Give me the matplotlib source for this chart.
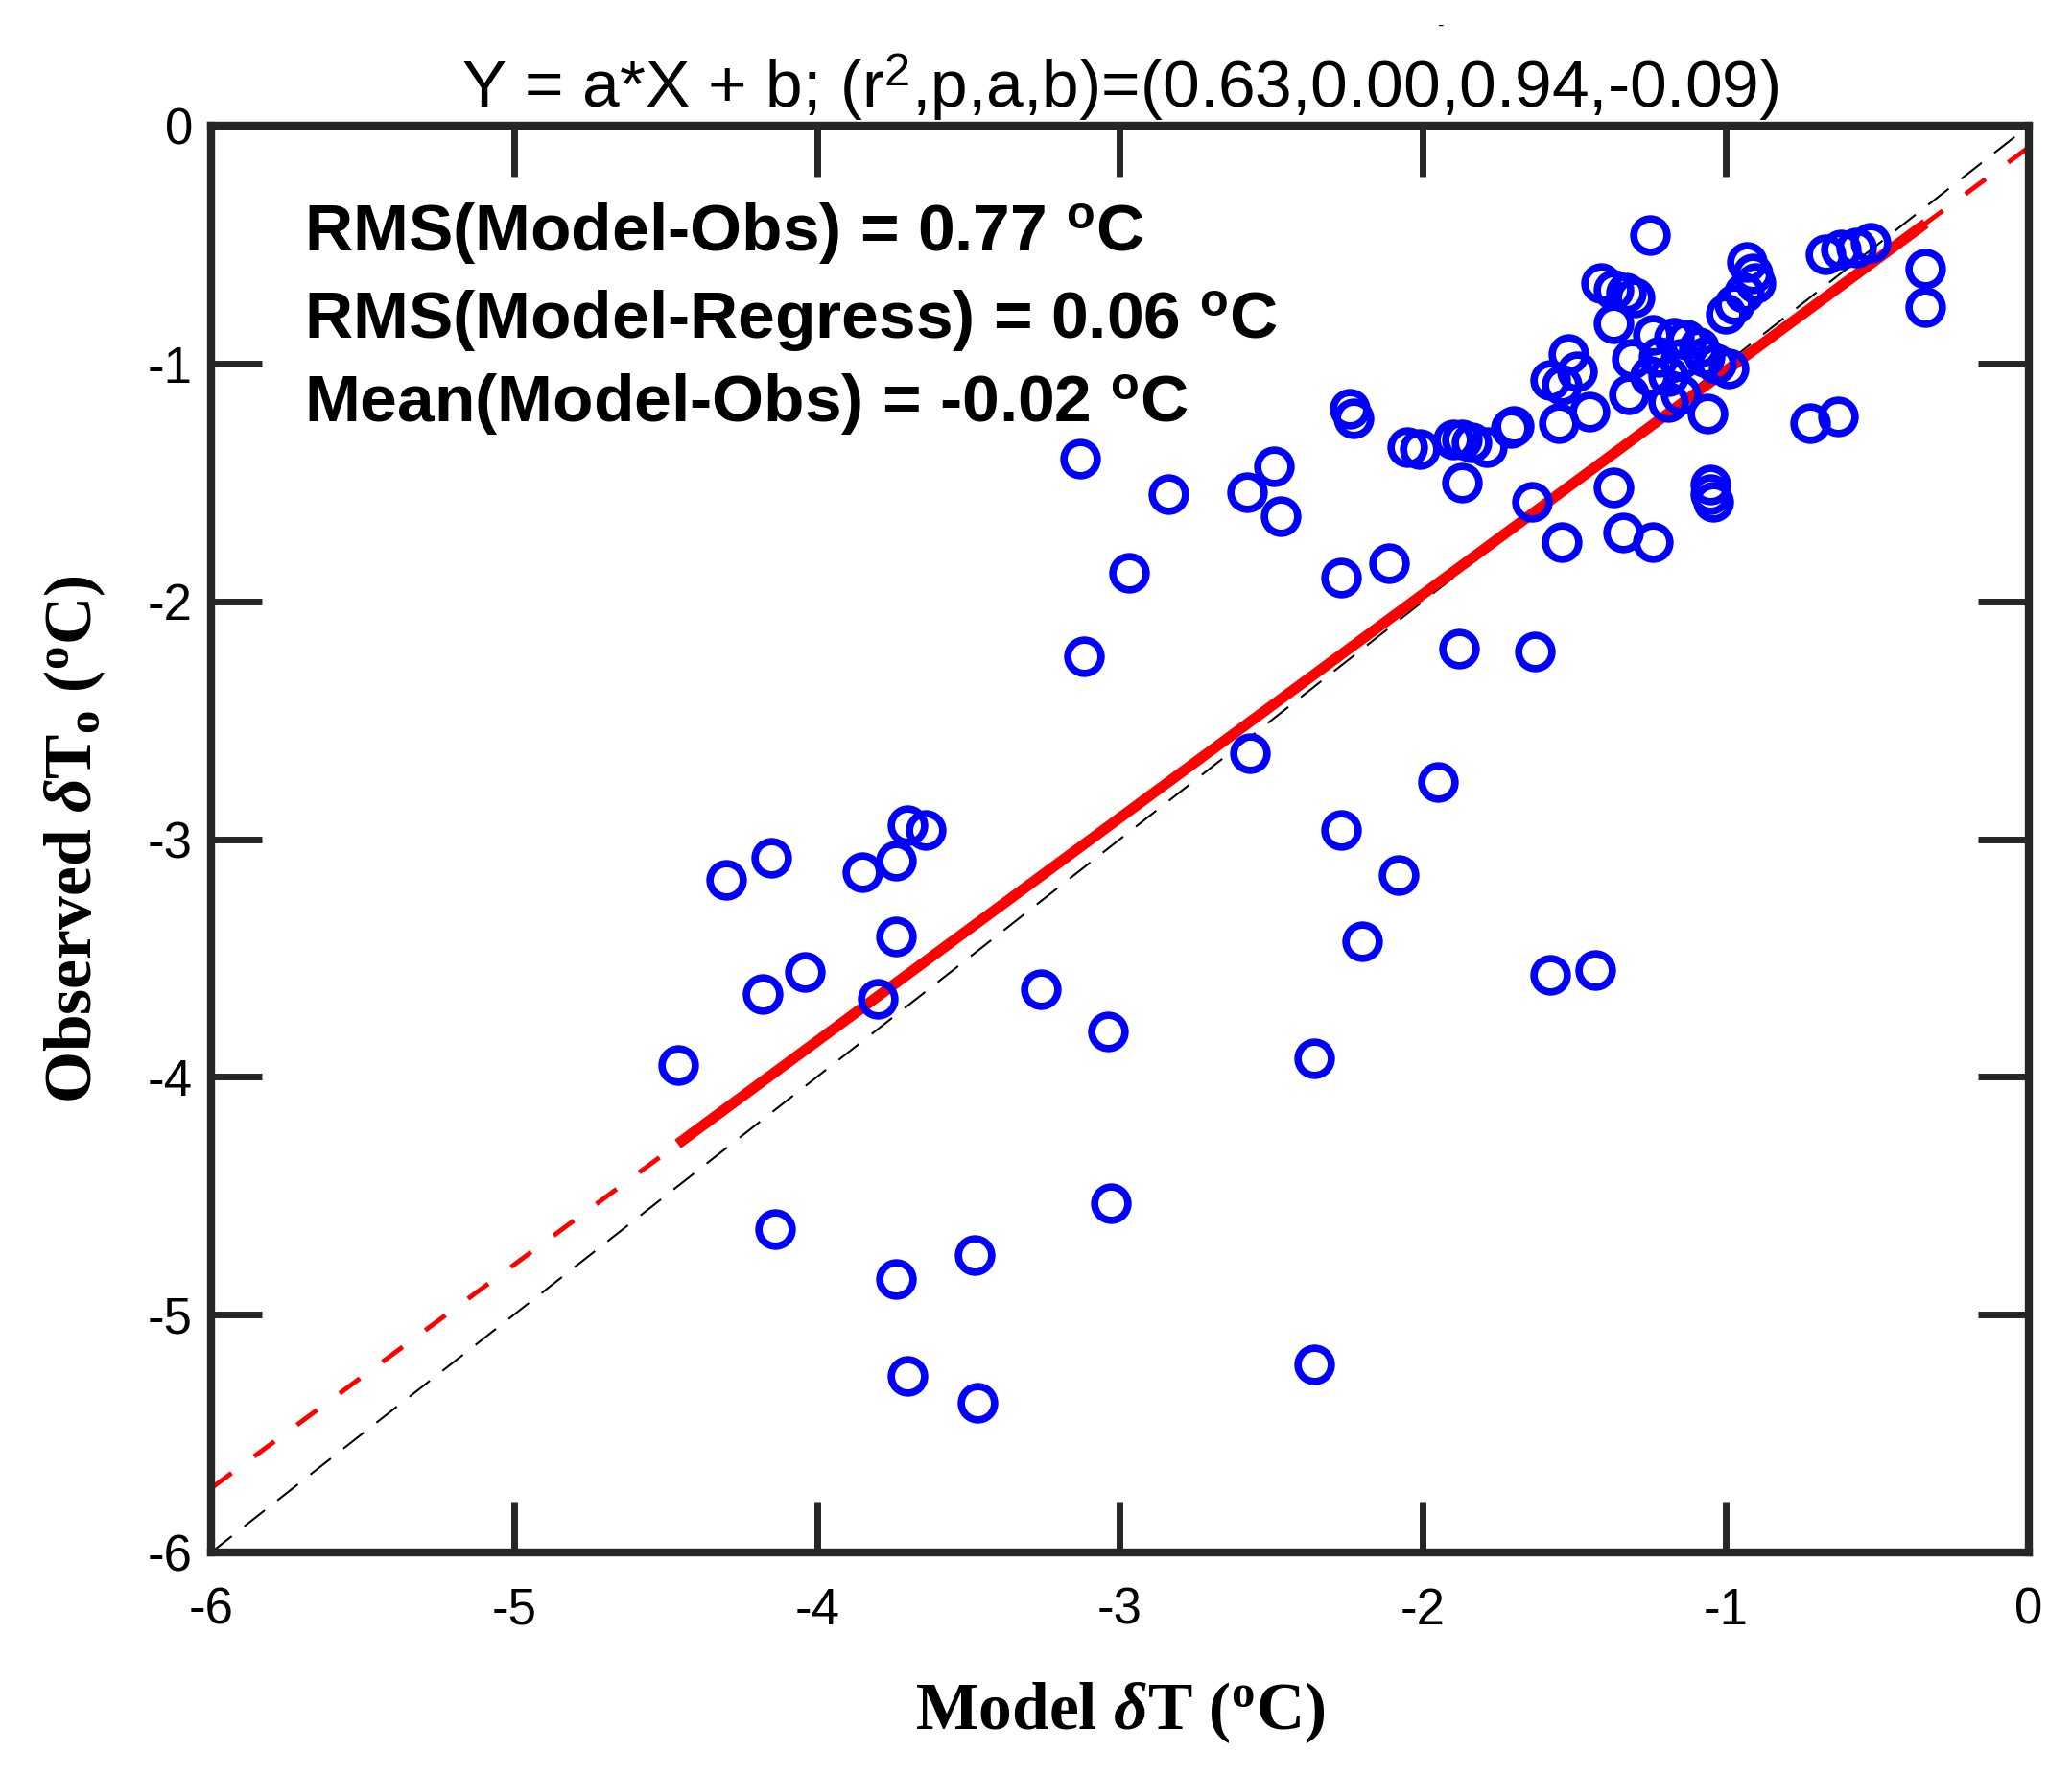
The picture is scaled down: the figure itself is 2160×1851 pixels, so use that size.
import numpy as np
import matplotlib
matplotlib.use('Agg')
import matplotlib.pyplot as plt

plt.rcParams['font.family'] = ['Liberation Sans', 'DejaVu Sans']
plt.rcParams['axes.unicode_minus'] = False
plt.rcParams['mathtext.fontset'] = 'custom'
plt.rcParams['mathtext.rm'] = 'Liberation Sans'
plt.rcParams['mathtext.bf'] = 'Liberation Sans:bold'
plt.rcParams['mathtext.sf'] = 'Liberation Serif:bold'
plt.rcParams['mathtext.it'] = 'Liberation Serif:italic:bold'

# model dT vs observed dT
model_dT = [
    -1.25, -0.34, -0.34, -0.67, -0.62, -0.57, -0.52,
    -0.93, -0.91, -0.90, -0.94, -0.97, -1.00,
    -1.41, -1.37, -1.33, -1.30, -1.37,
    -1.24, -1.17, -1.13, -1.09, -1.22, -1.15, -1.07, -1.03, -1.19, -1.25,
    -0.99, -1.15, -1.19, -1.31, -1.32, -1.06,
    -1.52, -1.49, -1.58, -1.54, -1.45, -1.55, -1.70,
    -0.72, -0.63, -1.05, -1.05, -1.04,
    -1.37, -1.34, -1.24, -1.54, -1.64,
    -2.24, -2.23, -2.05, -2.01, -1.90, -1.87, -1.84, -1.79, -1.71, -1.87,
    -2.11, -2.27, -1.88, -1.63,
    -2.49, -2.58, -2.47, -2.84, -2.97, -3.13, -3.12,
    -2.57, -1.95, -2.27, -2.08, -2.20, -1.58, -1.43, -2.36, -2.36,
    -3.26, -3.04, -3.03, -3.48, -3.47, -3.70, -3.74, -4.14,
    -4.46, -4.18, -4.04, -4.30, -4.15, -3.85, -3.74, -3.70, -3.64, -3.74, -3.80,
]
obs_dT = [
    -0.46, -0.60, -0.76, -0.54, -0.52, -0.51, -0.49,
    -0.57, -0.62, -0.66, -0.70, -0.75, -0.79,
    -0.66, -0.69, -0.70, -0.72, -0.83,
    -0.88, -0.89, -0.90, -0.93, -0.97, -0.98, -0.97, -1.00, -1.05, -1.05,
    -1.02, -1.13, -1.16, -0.98, -1.13, -1.21,
    -0.96, -1.03, -1.07, -1.09, -1.20, -1.25, -1.26,
    -1.25, -1.22, -1.51, -1.55, -1.58,
    -1.52, -1.71, -1.75, -1.75, -1.58,
    -1.19, -1.23, -1.35, -1.36, -1.32, -1.32, -1.33, -1.35, -1.27, -1.50,
    -1.84, -1.90, -2.20, -2.21,
    -1.43, -1.54, -1.64, -1.55, -1.88, -1.40, -2.23,
    -2.64, -2.76, -2.96, -3.15, -3.43, -3.57, -3.55, -3.92, -5.21,
    -3.63, -3.81, -4.53, -4.75, -5.37, -5.26, -4.85, -4.64,
    -3.95, -3.65, -3.56, -3.17, -3.08, -3.14, -3.09, -2.94, -2.96, -3.41, -3.67,
]

slope, intercept = 0.94, -0.09
stats_lines = [
    r'RMS(Model-Obs) = 0.77 $^{\mathbf{o}}$C',
    r'RMS(Model-Regress) = 0.06 $^{\mathbf{o}}$C',
    r'Mean(Model-Obs) = -0.02 $^{\mathbf{o}}$C',
]
ticks = [-6, -5, -4, -3, -2, -1, 0]

x = np.array(model_dT)
y = np.array(obs_dT)

fig = plt.figure(figsize=(21.6, 18.51), dpi=100)
ax = fig.add_axes([0.102, 0.126, 0.877, 0.803])

# 1:1 line
ax.plot([-6, 0], [-6, 0], color='black', ls=(0, (13, 8)), lw=1.5, zorder=1)
# regression: dashed over full range, solid over data range
xf = np.array([-6, 0])
ax.plot(xf, slope * xf + intercept, color='red', ls=(0, (5.4, 6)), lw=3.5, zorder=2)
xs = np.array([x.min(), x.max()])
ax.plot(xs, slope * xs + intercept, color='red', lw=8, solid_capstyle='butt', zorder=3)

ax.plot(x, y, 'o', mfc='none', mec='blue', ms=25, mew=5.5, zorder=4)

ax.set_xlim(-6, 0)
ax.set_ylim(-6, 0)
ax.set_xticks(ticks)
ax.set_yticks(ticks)
ax.tick_params(direction='in', length=38, width=5, color='#262626',
               top=True, right=True, labelsize=38)
ax.tick_params(axis='x', pad=26)
ax.tick_params(axis='y', pad=14)
for s in ax.spines.values():
    s.set_linewidth(6)
    s.set_color('#262626')

ax.set_title(r'Y = a*X + b; (r$^2$,p,a,b)=(0.63,0.00,0.94,-0.09)',
             fontsize=50, pad=14)

ypos = [0.925, 0.864, 0.805]
for t, yy in zip(stats_lines, ypos):
    ax.text(0.051, yy, t, transform=ax.transAxes, fontsize=50,
            fontweight='bold', va='center', ha='left')

ax.set_xlabel(r'Model $\delta$T ($^{\mathsf{o}}$C)', family='Liberation Serif',
              fontweight='bold', fontsize=50, labelpad=34)
ax.set_ylabel(r'Observed $\delta$T$_{\mathsf{o}}$ ($^{\mathsf{o}}$C)',
              family='Liberation Serif', fontweight='bold', fontsize=50,
              labelpad=30)

fig.text(0.695, 0.985, '-', fontsize=14, ha='center', va='center')

fig.savefig('out.png', dpi=100)
